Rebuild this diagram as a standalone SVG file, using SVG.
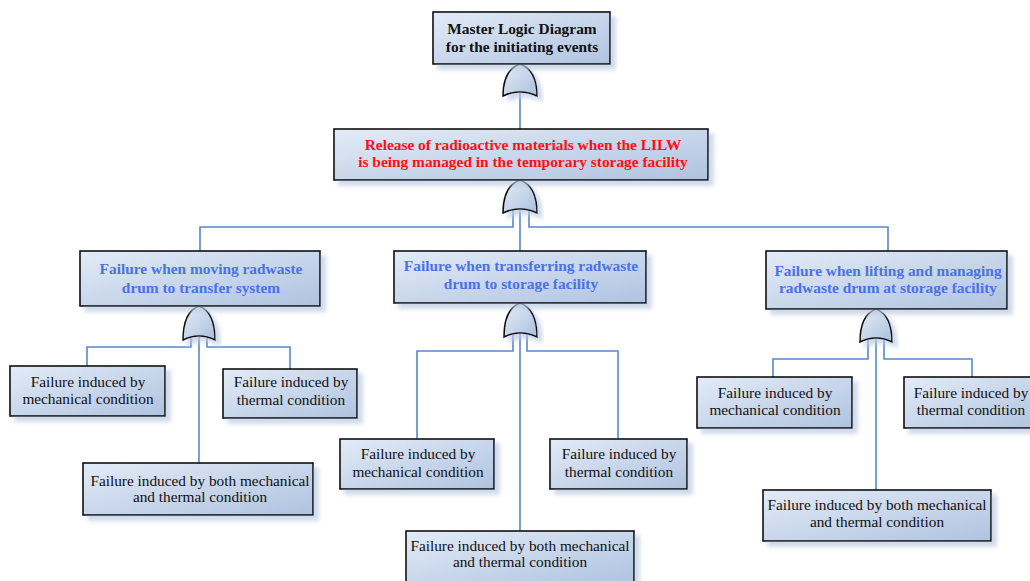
<svg xmlns="http://www.w3.org/2000/svg" width="1030" height="581" viewBox="0 0 1030 581">
<defs>
<linearGradient id="bg" x1="0" y1="0" x2="1" y2="1">
<stop offset="0" stop-color="#e3ebf7"/>
<stop offset="1" stop-color="#afc3e0"/>
</linearGradient>
<linearGradient id="gg" x1="0" y1="0" x2="1" y2="1">
<stop offset="0" stop-color="#e6eef8"/>
<stop offset="1" stop-color="#aabfdd"/>
</linearGradient>
<filter id="sh" x="-10%" y="-10%" width="130%" height="140%">
<feDropShadow dx="5" dy="5" stdDeviation="2" flood-color="#b9c9e2" flood-opacity="0.7"/>
</filter>
</defs>
<style>
.box{fill:url(#bg);stroke:#111;stroke-width:1.6;filter:url(#sh)}
.gate{fill:url(#gg);stroke:#111;stroke-width:1.5;filter:url(#sh)}
.c{fill:none;stroke:#5a88c8;stroke-width:1.6}
text{font-family:'Liberation Serif','Times New Roman',serif;font-size:15.3px;text-anchor:middle}
.b{font-weight:bold;font-size:15.4px}
.top{fill:#111}
.red{fill:#ff1010}
.blue{fill:#4a72e6}
.n{fill:#111}
</style>
<rect width="1030" height="581" fill="#fff"/>
<g id="connectors">
<path class="c" d="M520,93 V129"/>
<path class="c" d="M513,210 V227 H200 V251"/>
<path class="c" d="M529,210 V227 H888 V251"/>
<path class="c" d="M520,210 V251"/>
<path class="c" d="M191,337 V347 H87 V366"/>
<path class="c" d="M207,337 V347 H290 V369"/>
<path class="c" d="M199,337 V463"/>
<path class="c" d="M513,334 V351 H417 V439"/>
<path class="c" d="M527,334 V351 H618 V439"/>
<path class="c" d="M520,334 V531"/>
<path class="c" d="M868,339 V359 H773 V377"/>
<path class="c" d="M884,339 V359 H972 V377"/>
<path class="c" d="M876,339 V490"/>
</g>
<g id="gates">
<path class="gate" d="M503,96 Q503,70 520,64 Q537,70 537,96 Q520,88 503,96 Z"/>
<path class="gate" d="M503,213 Q503,186 520,180 Q537,186 537,213 Q520,205 503,213 Z"/>
<path class="gate" d="M183,340 Q183,312 199,306 Q215,312 215,340 Q199,332 183,340 Z"/>
<path class="gate" d="M504,337 Q504,309 520,303 Q537,309 537,337 Q520,329 504,337 Z"/>
<path class="gate" d="M860,342 Q860,315 876,309 Q892,315 892,342 Q876,334 860,342 Z"/>
</g>
<g id="n0">
<rect class="box" x="433" y="12" width="177" height="52"/>
<text class="b top" x="522" y="34">Master Logic Diagram</text>
<text class="b top" x="522" y="52">for the initiating events</text>
</g>
<g id="n1">
<rect class="box" x="334" y="129" width="374" height="51"/>
<text class="b red" x="523" y="150">Release of radioactive materials when the LILW</text>
<text class="b red" x="523" y="167">is being managed in the temporary storage facility</text>
</g>
<g id="n2">
<rect class="box" x="80" y="251" width="240" height="55"/>
<text class="b blue" x="201" y="274">Failure when moving radwaste</text>
<text class="b blue" x="201" y="293">drum to transfer system</text>
</g>
<g id="n3">
<rect class="box" x="394" y="251" width="252" height="52"/>
<text class="b blue" x="521" y="271">Failure when transferring radwaste</text>
<text class="b blue" x="521" y="289">drum to storage facility</text>
</g>
<g id="n4">
<rect class="box" x="766" y="251" width="241" height="58"/>
<text class="b blue" x="888" y="276">Failure when lifting and managing</text>
<text class="b blue" x="888" y="293">radwaste drum at storage facility</text>
</g>
<g id="n5">
<rect class="box" x="10" y="366" width="155" height="50"/>
<text class="n" x="88" y="387">Failure induced by</text>
<text class="n" x="88" y="404">mechanical condition</text>
</g>
<g id="n6">
<rect class="box" x="223" y="369" width="134" height="49"/>
<text class="n" x="291" y="387">Failure induced by</text>
<text class="n" x="291" y="405">thermal condition</text>
</g>
<g id="n7">
<rect class="box" x="83" y="463" width="230" height="52"/>
<text class="n" x="200" y="486">Failure induced by both mechanical</text>
<text class="n" x="200" y="502">and thermal condition</text>
</g>
<g id="n8">
<rect class="box" x="340" y="439" width="154" height="50"/>
<text class="n" x="418" y="459">Failure induced by</text>
<text class="n" x="418" y="477">mechanical condition</text>
</g>
<g id="n9">
<rect class="box" x="550" y="439" width="137" height="50"/>
<text class="n" x="619" y="459">Failure induced by</text>
<text class="n" x="619" y="477">thermal condition</text>
</g>
<g id="n10">
<rect class="box" x="406" y="531" width="228" height="52"/>
<text class="n" x="520" y="551">Failure induced by both mechanical</text>
<text class="n" x="520" y="567">and thermal condition</text>
</g>
<g id="n11">
<rect class="box" x="697" y="377" width="155" height="51"/>
<text class="n" x="775" y="398">Failure induced by</text>
<text class="n" x="775" y="415">mechanical condition</text>
</g>
<g id="n12">
<rect class="box" x="904" y="377" width="140" height="51"/>
<text class="n" x="971" y="398">Failure induced by</text>
<text class="n" x="971" y="415">thermal condition</text>
</g>
<g id="n13">
<rect class="box" x="763" y="490" width="228" height="51"/>
<text class="n" x="877" y="510">Failure induced by both mechanical</text>
<text class="n" x="877" y="527">and thermal condition</text>
</g>
</svg>
